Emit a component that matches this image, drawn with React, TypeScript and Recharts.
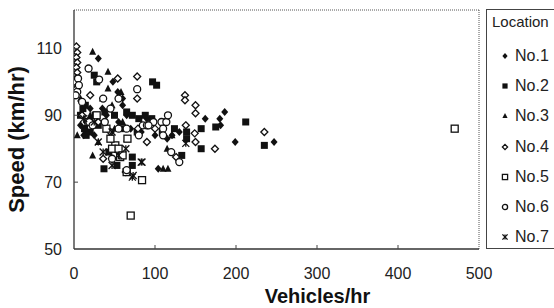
import { ScatterChart, Scatter, XAxis, YAxis, ReferenceLine } from 'recharts'

// [vehicles/hr, speed km/hr] per location
const no1: [number, number][] = [
  [30, 107], [48, 100], [54, 97], [60, 95], [60, 93], [15, 88], [25, 84], [20, 92], [40, 90], [55, 88],
  [70, 86], [45, 83], [83, 85], [100, 84], [115, 83], [121, 84], [104, 74], [162, 89], [180, 89], [186, 91],
  [181, 87], [199, 82], [247, 82], [8, 87], [35, 92], [65, 90], [90, 89], [130, 85], [12, 84], [50, 80],
]
const no2: [number, number][] = [
  [25, 102], [97, 100], [102, 99], [11, 92], [14, 93], [28, 100], [8, 90], [26, 90], [38, 91], [50, 90],
  [65, 91], [72, 90], [80, 89], [88, 90], [96, 89], [20, 85], [13, 86], [15, 84], [43, 79], [37, 74],
  [53, 75], [72, 75], [72, 77.5], [133, 78], [139, 85], [139, 83], [109, 85], [110, 88], [124, 86], [157, 86],
  [175, 86.5], [212, 88], [157, 80], [235, 81], [78, 85], [30, 87], [60, 86],
]
const no3: [number, number][] = [
  [23, 109], [42, 103], [42, 98], [4, 84], [13, 86], [20, 90], [35, 95], [47, 93], [23, 78], [110, 74],
  [116, 74], [121, 84], [115, 80], [30, 82], [60, 88], [58, 97], [65, 83], [8, 95], [50, 86],
]
const no4: [number, number][] = [
  [3, 110.6], [4, 108.8], [3, 107.3], [4, 105.8], [3, 104.3], [4, 102.8], [3, 101], [4, 99.5], [3, 98], [54, 101],
  [78, 101.6], [78, 95], [137, 96], [137, 94.5], [150, 93], [150, 90.6], [235, 85], [149, 84.6], [150, 82], [174, 80],
  [138, 87], [126, 77.5], [36, 77], [64, 73], [79, 86], [20, 96], [10, 90], [30, 88], [90, 82], [100, 86], [45, 85],
]
const no5: [number, number][] = [
  [470, 86], [70, 60], [84, 70.6], [51, 81], [47, 80], [55, 80], [57, 77.5], [60, 78], [45, 83], [28, 90],
  [66, 83], [65, 73], [18, 88], [40, 86],
]
const no6: [number, number][] = [
  [3, 100], [5, 101], [4, 97], [6, 99], [2, 96], [18, 104], [31, 100.7], [78, 97.8], [36, 95], [10, 94],
  [45, 92], [55, 95], [19, 88], [23, 87], [38, 88], [55, 86], [65, 86], [85, 87], [98, 88], [90, 87],
  [108, 88], [114, 88], [116, 90], [92, 87], [110, 86], [130, 76], [120, 79], [65, 73.6], [47, 77], [110, 84], [80, 84],
]
const no7: [number, number][] = [
  [36, 79], [47, 75], [83, 76], [72, 71.5], [73, 72], [84, 76], [138, 81.6], [47, 85], [64, 80], [55, 78],
  [25, 88], [12, 89], [30, 82],
]

const xTicks = [0, 100, 200, 300, 400, 500]
const yTicks = [50, 70, 90, 110]

type Kind = 'diamondFill' | 'squareFill' | 'triangleFill' | 'diamondOpen' | 'squareOpen' | 'circleOpen' | 'asterisk'

const SERIES: { name: string; data: [number, number][]; kind: Kind }[] = [
  { name: 'No.1', data: no1, kind: 'diamondFill' },
  { name: 'No.2', data: no2, kind: 'squareFill' },
  { name: 'No.3', data: no3, kind: 'triangleFill' },
  { name: 'No.4', data: no4, kind: 'diamondOpen' },
  { name: 'No.5', data: no5, kind: 'squareOpen' },
  { name: 'No.6', data: no6, kind: 'circleOpen' },
  { name: 'No.7', data: no7, kind: 'asterisk' },
]

const INK = '#111'
const FONT = '"Liberation Sans", Arial, sans-serif'

function Mark({ cx, cy, kind, r = 3.5 }: { cx: number; cy: number; kind: Kind; r?: number }) {
  const sw = 1.3
  switch (kind) {
    case 'diamondFill':
      return <path d={`M${cx},${cy - r - 0.5}L${cx + r},${cy}L${cx},${cy + r + 0.5}L${cx - r},${cy}Z`} fill={INK} />
    case 'squareFill':
      return <rect x={cx - r} y={cy - r} width={r * 2} height={r * 2} fill={INK} />
    case 'triangleFill':
      return <path d={`M${cx},${cy - r - 0.5}L${cx + r},${cy + r - 0.5}L${cx - r},${cy + r - 0.5}Z`} fill={INK} />
    case 'diamondOpen':
      return (
        <path
          d={`M${cx},${cy - r}L${cx + r},${cy}L${cx},${cy + r}L${cx - r},${cy}Z`}
          fill="#fff"
          stroke={INK}
          strokeWidth={sw}
        />
      )
    case 'squareOpen':
      return <rect x={cx - r} y={cy - r} width={r * 2} height={r * 2} fill="#fff" stroke={INK} strokeWidth={sw} />
    case 'circleOpen':
      return <circle cx={cx} cy={cy} r={r} fill="#fff" stroke={INK} strokeWidth={sw} />
    case 'asterisk':
      return (
        <g stroke={INK} strokeWidth={1.3}>
          <line x1={cx - r} y1={cy - r} x2={cx + r} y2={cy + r} />
          <line x1={cx - r} y1={cy + r} x2={cx + r} y2={cy - r} />
          <line x1={cx} y1={cy - r} x2={cx} y2={cy + r} />
        </g>
      )
  }
}

const XTick = (props: any) => {
  const { x, y, payload } = props
  return (
    <g>
      {payload.value > 0 && payload.value < 500 && <line x1={x} x2={x} y1={y - 19} y2={y - 23} stroke="#444" />}
      <text x={x} y={y} dy="0.71em" textAnchor="middle" fontSize={16} fontFamily={FONT} fill="#222">
        {payload.value}
      </text>
    </g>
  )
}

const YTick = (props: any) => {
  const { x, y, payload } = props
  return (
    <g>
      {payload.value > 50 && <line x1={x + 12} x2={x + 16} y1={y} y2={y} stroke="#444" />}
      <text x={x} y={y} dy="0.355em" textAnchor="end" fontSize={16} fontFamily={FONT} fill="#222">
        {payload.value}
      </text>
    </g>
  )
}

const XTitle = (props: any) => {
  const { x, y, width } = props.viewBox
  return (
    <text x={x + width / 2 + 41} y={y + 54} textAnchor="middle" fontSize={20} fontWeight="bold" fontFamily={FONT} fill="#111">
      Vehicles/hr
    </text>
  )
}

const YTitle = (props: any) => {
  const { y, height } = props.viewBox
  const cy = y + height / 2 + 10
  return (
    <text
      x={24}
      y={cy}
      transform={`rotate(-90 24 ${cy})`}
      textAnchor="middle"
      fontSize={22}
      fontWeight="bold"
      fontFamily={FONT}
      fill="#111"
    >
      Speed (km/hr)
    </text>
  )
}

function LegendBox() {
  return (
    <div
      style={{
        position: 'absolute',
        left: 486,
        top: 9,
        width: 90,
        height: 240,
        borderLeft: '1.5px solid #444',
        borderTop: '1.5px solid #444',
        borderBottom: '1.5px solid #444',
        fontFamily: FONT,
        color: '#222',
        boxSizing: 'border-box',
      }}
    >
      <div style={{ position: 'absolute', left: 5, top: 3, fontSize: 15 }}>Location</div>
      {SERIES.map((s, i) => (
        <div key={s.name} style={{ position: 'absolute', left: 12, top: 37 + i * 30.2, display: 'flex', alignItems: 'center', fontSize: 16 }}>
          <svg width={12} height={12} style={{ marginRight: 4 }}>
            <Mark cx={6} cy={6} kind={s.kind} r={2.6} />
          </svg>
          {s.name}
        </div>
      ))}
    </div>
  )
}

export default function App() {
  return (
    <div style={{ position: 'absolute', left: 0, top: 0, width: 554, height: 308, background: '#fff', overflow: 'hidden' }}>
      <ScatterChart width={554} height={308} margin={{ top: 10, right: 75, left: 0, bottom: 0 }}>
        <XAxis
          type="number"
          dataKey="v"
          domain={[0, 500]}
          ticks={xTicks}
          height={59}
          tickSize={0}
          tickMargin={19}
          tick={<XTick />}
          axisLine={{ stroke: '#333', strokeWidth: 1.3 }}
          label={<XTitle />}
          allowDataOverflow
        />
        <YAxis
          type="number"
          dataKey="s"
          domain={[50, 121.5]}
          ticks={yTicks}
          width={74}
          tickSize={0}
          tickMargin={12}
          tick={<YTick />}
          axisLine={{ stroke: '#333', strokeWidth: 1.3 }}
          label={<YTitle />}
          allowDataOverflow
        />
        <ReferenceLine y={121.5} stroke="#555" strokeDasharray="1 1" />
        <ReferenceLine x={500} stroke="#555" strokeDasharray="1 1" />
        {SERIES.map((s) => (
          <Scatter
            key={s.name}
            name={s.name}
            data={s.data.map(([v, sp]) => ({ v, s: sp }))}
            isAnimationActive={false}
            shape={(p: any) => <Mark cx={p.cx} cy={p.cy} kind={s.kind} />}
          />
        ))}
      </ScatterChart>
      <LegendBox />
    </div>
  )
}
